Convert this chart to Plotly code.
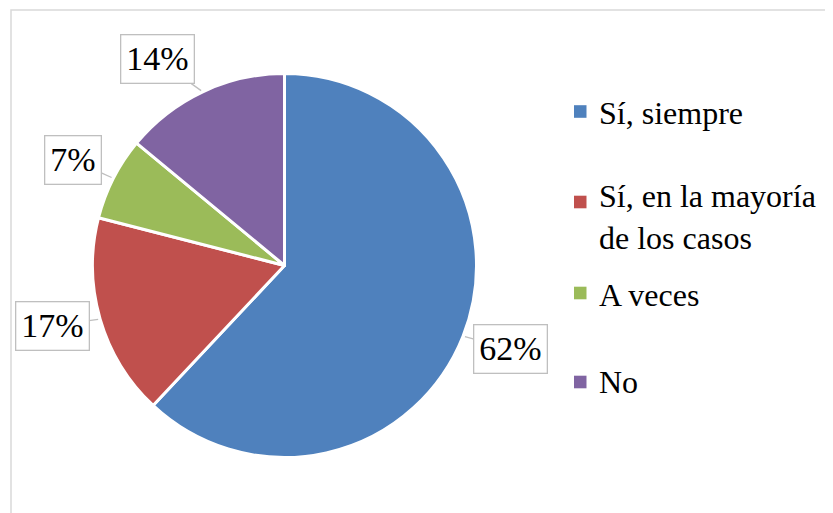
import math
import plotly.graph_objects as go

# ---- data ----
categories = ["Sí, siempre", "Sí, en la mayoría de los casos", "A veces", "No"]
legend_lines = [["Sí, siempre"], ["Sí, en la mayoría", "de los casos"], ["A veces"], ["No"]]
values = [62, 17, 7, 14]
colors = ["#4F81BD", "#C0504D", "#9BBB59", "#8064A2"]

# ---- layout constants (pixels, page body adds an 8px offset) ----
W, H = 833, 513
OFF = 8
CX, CY, R = 284.5 - OFF, 265.5 - OFF, 192.0
label_offsets = [(47, 13), (-48, 7), (-40.5, -18.5), (-45.5, -32.5)]
legend_square_y = [111.5, 202, 293, 382]
legend_text_y = [113, 203, 295, 382]
FONT = "Liberation Serif"

fig = go.Figure(go.Pie(
    labels=categories,
    values=values,
    sort=False,
    direction="clockwise",
    rotation=0,
    marker=dict(colors=colors, line=dict(color="white", width=3)),
    textinfo="none",
    hoverinfo="label+percent",
    showlegend=False,
    domain=dict(x=[(CX - R) / W, (CX + R) / W], y=[1 - (CY + R) / H, 1 - (CY - R) / H]),
))

annotations = []
shapes = []

# frame
shapes.append(dict(type="rect", xref="paper", yref="paper",
                   x0=(11 - OFF) / W, x1=1.05, y0=-0.05, y1=1 - (10 - OFF) / H,
                   line=dict(color="#d9d9d9", width=1.5), fillcolor="rgba(0,0,0,0)", layer="below"))

# percentage callouts, anchored on the slice edge at the mid angle
total = sum(values)
cum = 0
for v, (ox, oy) in zip(values, label_offsets):
    mid = (cum + v / 2) / total * 2 * math.pi
    cum += v
    px = CX + R * math.sin(mid)
    py = CY - R * math.cos(mid)
    annotations.append(dict(
        x=px / W, y=1 - py / H, xref="paper", yref="paper",
        text=f"{round(v / total * 100)}%",
        showarrow=True, ax=ox, ay=oy, axref="pixel", ayref="pixel",
        arrowhead=0, arrowwidth=1.3, arrowcolor="#bfbfbf", standoff=2,
        bordercolor="#bfbfbf", borderwidth=1.3, borderpad=5, bgcolor="white",
        font=dict(family=FONT, size=34, color="black"),
    ))

# legend
for lines, color, sy, ty in zip(legend_lines, colors, legend_square_y, legend_text_y):
    shapes.append(dict(type="rect", xref="paper", yref="paper",
                       x0=(574 - OFF) / W, x1=(586.5 - OFF) / W,
                       y0=1 - (sy - OFF + 6.3) / H, y1=1 - (sy - OFF - 6.3) / H,
                       line=dict(width=0), fillcolor=color))
    annotations.append(dict(
        x=(597 - OFF) / W, y=1 - (ty - OFF) / H, xref="paper", yref="paper",
        xanchor="left", yanchor="top" if len(lines) > 1 else "middle",
        yshift=27 if len(lines) > 1 else 0,
        showarrow=False, text="<br>".join(lines), align="left",
        font=dict(family=FONT, size=32, color="black"),
    ))

fig.update_layout(
    width=W, height=H,
    margin=dict(l=0, r=0, t=0, b=0),
    paper_bgcolor="white", plot_bgcolor="white",
    annotations=annotations, shapes=shapes,
)

fig.write_html("out.html")
